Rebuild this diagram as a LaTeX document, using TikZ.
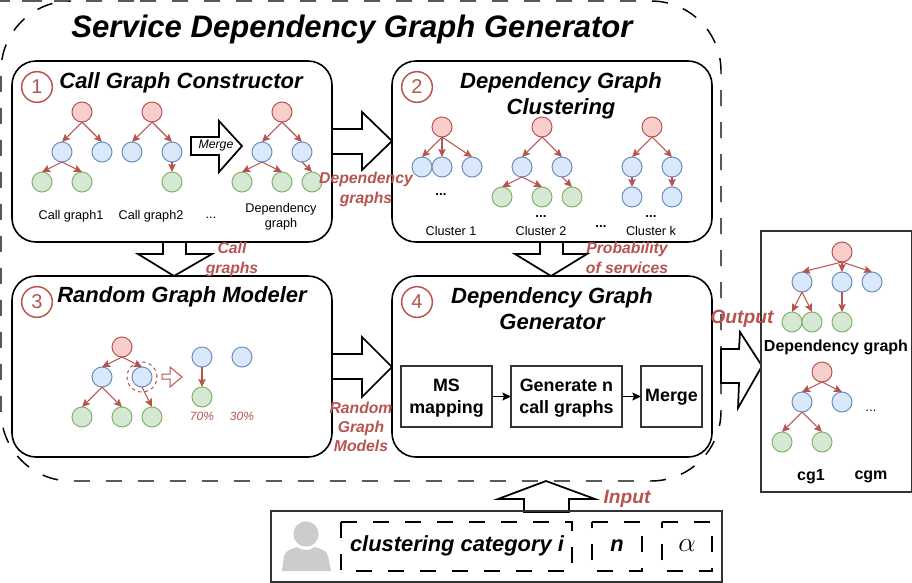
\documentclass[tikz,border=0pt]{standalone}
\usepackage{fontspec}
\setmainfont{Liberation Sans}
\usetikzlibrary{arrows.meta}
\definecolor{redS}{HTML}{B85450}
\definecolor{redF}{HTML}{F8CECC}
\definecolor{bluS}{HTML}{6C8EBF}
\definecolor{bluF}{HTML}{DAE8FC}
\definecolor{grnS}{HTML}{82B366}
\definecolor{grnF}{HTML}{D5E8D4}
\tikzset{
  x=0.75pt,y=-0.75pt,
  tn/.style={circle,draw,line width=0.75pt,minimum size=15pt,inner sep=0pt,outer sep=0pt},
  rn/.style={tn,draw=redS,fill=redF},
  bn/.style={tn,draw=bluS,fill=bluF},
  gn/.style={tn,draw=grnS,fill=grnF},
  edge/.style={draw=redS,line width=0.8pt,-{Stealth[length=6pt,width=5.5pt,inset=1pt]}},
  bigbox/.style={draw=black,line width=1.2pt,fill=white,rounded corners=18pt,inner sep=0pt,outer sep=0pt},
  sqbox/.style={draw=black!80,line width=1.2pt,fill=white,inner sep=0pt,outer sep=0pt},
  bigarrow/.style={draw=black,line width=1.3pt,fill=white,line join=miter},
  dashbox/.style={draw=black,line width=1.1pt,dash pattern=on 12pt off 12pt},
  numc/.style={circle,draw=redS,line width=1.1pt,minimum size=23pt,inner sep=0pt,text=redS,fill=white,font=\fontsize{15}{18}\selectfont},
  txt/.style={inner sep=0pt,outer sep=0pt,align=center},
  title/.style={txt,font=\fontsize{16.5}{19.5}\selectfont\bfseries\itshape},
  red lab/.style={txt,text=redS,font=\fontsize{11.8}{15}\selectfont\bfseries\itshape},
  small/.style={txt,font=\fontsize{9.5}{11.25}\selectfont},
  dotsb/.style={txt,font=\fontsize{10}{11}\selectfont\bfseries},
  innerlab/.style={txt,font=\fontsize{13.4}{16.5}\selectfont\bfseries},
  outlab/.style={txt,font=\fontsize{12}{14}\selectfont\bfseries},
  inlab/.style={txt,font=\fontsize{16.4}{19}\selectfont\bfseries\itshape},
}
\begin{document}
\begin{tikzpicture}
\useasboundingbox (0,0) rectangle (912,582);
% outer dashed region
\draw[dashbox,rounded corners=52.5pt] (70,1) -- (721,1) -- (721,481) -- (1,481) -- (1,1) -- cycle;
\node[txt,font=\fontsize{23.3}{27}\selectfont\bfseries\itshape] (maint) at (352,29) {Service Dependency Graph Generator};

% boxes
\node[bigbox,minimum width=240pt,minimum height=135.75pt] (b1) at (172,151.5) {};
\node[bigbox,minimum width=240pt,minimum height=135.75pt] (b2) at (552,151.5) {};
\node[bigbox,minimum width=240pt,minimum height=135.75pt] (b3) at (172,366.5) {};
\node[bigbox,minimum width=240pt,minimum height=135.75pt] (b4) at (552,366.5) {};
% big arrows
\draw[bigarrow] (332,129) -- (362,129) -- (362,112) -- (392,141) -- (362,170) -- (362,154) -- (332,154) -- cycle;
\draw[bigarrow] (332,354) -- (362,354) -- (362,337) -- (392,367) -- (362,397) -- (362,379) -- (332,379) -- cycle;
\draw[bigarrow] (163,242) -- (163,254) -- (138,254) -- (174,276) -- (212,254) -- (186,254) -- (186,242) -- cycle;
\draw[bigarrow] (540,242) -- (540,254) -- (515,254) -- (551,276) -- (587,254) -- (563,254) -- (563,242) -- cycle;
\draw[bigarrow] (721,349) -- (739,349) -- (740,332) -- (762,366) -- (738,408) -- (739,383) -- (721,383) -- cycle;
\draw[bigarrow] (524,512) -- (524,499) -- (498,499) -- (546,481) -- (595,499) -- (569,499) -- (569,512) -- cycle;

% numbers
\node[numc] (n1) at (37,87) {1};
\node[numc] (n2) at (417,87) {2};
\node[numc] (n3) at (37,302) {3};
\node[numc] (n4) at (417,302) {4};

% titles
\node[title] (t1) at (181,83) {Call Graph Constructor};
\node[title] (t2) at (561,96) {Dependency Graph\\Clustering};
\node[title] (t3) at (182,297) {Random Graph Modeler};
\node[title] (t4) at (552,309) {Dependency Graph\\Generator};

% box 1 graphs
\node[rn] (a) at (82,112) {}; \node[bn] (a1) at (62,152) {}; \node[bn] (a2) at (102,152) {};
\node[gn] (a3) at (42,182) {}; \node[gn] (a4) at (82,182) {};
\draw[edge] (a.south) -- (a1.north); \draw[edge] (a.south) -- (a2.north);
\draw[edge] (a1.south) -- (a3.north); \draw[edge] (a1.south) -- (a4.north);
\node[rn] (c) at (152,112) {}; \node[bn] (c1) at (132,152) {}; \node[bn] (c2) at (172,152) {};
\node[gn] (c3) at (172,182) {};
\draw[edge] (c.south) -- (c1.north); \draw[edge] (c.south) -- (c2.north); \draw[edge] (c2.south) -- (c3.north);
\node[rn] (d) at (282,112) {}; \node[bn] (d1) at (262,152) {}; \node[bn] (d2) at (302,152) {};
\node[gn] (d3) at (242,182) {}; \node[gn] (d4) at (282,182) {}; \node[gn] (d5) at (312,182) {};
\draw[edge] (d.south) -- (d1.north); \draw[edge] (d.south) -- (d2.north);
\draw[edge] (d1.south) -- (d3.north); \draw[edge] (d1.south) -- (d4.north); \draw[edge] (d2.south) -- (d5.north);
\draw[draw=black,line width=1.3pt,fill=white] (191,137) -- (219,137) -- (219,121) -- (242,146) -- (219,172) -- (219,155) -- (191,155) -- cycle;
\node[txt,font=\fontsize{9.2}{11}\selectfont\itshape] (mg) at (216,146) {Merge};
\node[small] (l1) at (71,216) {Call graph1};
\node[small] (l2) at (151,216) {Call graph2};
\node[small] (l3) at (211,218) {...};
\node[small] (l4) at (281,216.5) {Dependency\\graph};

% box 2 graphs
\node[rn] (e) at (442,127) {}; \node[bn] (e1) at (422,167) {}; \node[bn] (e2) at (442,167) {}; \node[bn] (e3) at (472,167) {};
\draw[edge] (e.south) -- (e1.north); \draw[edge] (e.south) -- (e2.north); \draw[edge] (e.south) -- (e3.north);
\node[rn] (f) at (542,127) {}; \node[bn] (f1) at (522,167) {}; \node[bn] (f2) at (562,167) {};
\node[gn] (f3) at (502,197) {}; \node[gn] (f4) at (542,197) {}; \node[gn] (f5) at (572,197) {};
\draw[edge] (f.south) -- (f1.north); \draw[edge] (f.south) -- (f2.north);
\draw[edge] (f1.south) -- (f3.north); \draw[edge] (f1.south) -- (f4.north); \draw[edge] (f2.south) -- (f5.north);
\node[rn] (g) at (652,127) {}; \node[bn] (g1) at (632,167) {}; \node[bn] (g2) at (672,167) {};
\node[bn] (g3) at (632,197) {}; \node[bn] (g4) at (672,197) {};
\draw[edge] (g.south) -- (g1.north); \draw[edge] (g.south) -- (g2.north);
\draw[edge] (g1.south) -- (g3.north); \draw[edge] (g2.south) -- (g4.north);
\node[dotsb] (p1) at (441,195) {...};
\node[dotsb] (p2) at (541,217) {...};
\node[dotsb] (p3) at (601,227) {...};
\node[dotsb] (p4) at (651,217) {...};
\node[small] (k1) at (451,231) {Cluster 1};
\node[small] (k2) at (541,231) {Cluster 2};
\node[small] (k3) at (651,231) {Cluster k};

% box 3 graphs
\node[rn] (h) at (122,347) {}; \node[bn] (h1) at (102,377) {}; \node[bn] (h2) at (142,377) {};
\node[gn] (h3) at (82,417) {}; \node[gn] (h4) at (122,417) {}; \node[gn] (h5) at (152,417) {};
\draw[edge] (h.south) -- (h1.north); \draw[edge] (h.south) -- (h2.north);
\draw[edge] (h1.south) -- (h3.north); \draw[edge] (h1.south) -- (h4.north); \draw[edge] (h2.south) -- (h5.north);
\node[circle,draw=redS,line width=0.75pt,dash pattern=on 2.5pt off 2.5pt,minimum size=22.5pt,inner sep=0pt] (hc) at (142,377) {};
\draw[draw=redS,line width=0.75pt,fill=white] (162,374) -- (170,374) -- (170,367) -- (182,377) -- (170,387) -- (170,379) -- (162,379) -- cycle;
\node[bn] (i1) at (202,357) {}; \node[bn] (i2) at (242,357) {}; \node[gn] (i3) at (202,397) {};
\draw[edge] (i1.south) -- (i3.north);
\node[txt,text=redS,font=\fontsize{9}{11}\selectfont\itshape] (pc1) at (202,416) {70\%};
\node[txt,text=redS,font=\fontsize{9}{11}\selectfont\itshape] (pc2) at (242,416) {30\%};

% box 4 inner
\node[sqbox,minimum width=68.25pt,minimum height=45.75pt] (m1) at (446.5,396.5) {};
\node[sqbox,minimum width=83.25pt,minimum height=45.75pt] (m2) at (566.5,396.5) {};
\node[sqbox,minimum width=45.75pt,minimum height=45.75pt] (m3) at (671.5,396.5) {};
\node[innerlab] (m1t) at (446.5,398) {MS\\mapping};
\node[innerlab] (m2t) at (566.5,398) {Generate n\\call graphs};
\node[innerlab] (m3t) at (671.5,397) {Merge};
\draw[line width=0.8pt,-{Stealth[length=6.5pt,width=6pt,inset=1.2pt]}] (m1) -- (m2);
\draw[line width=0.8pt,-{Stealth[length=6.5pt,width=6pt,inset=1.2pt]}] (m2) -- (m3);

% output box
\node[sqbox,minimum width=113.25pt,minimum height=195.75pt] (out) at (836.5,361.5) {};
\node[rn] (o) at (842,252) {}; \node[bn] (o1) at (802,282) {}; \node[bn] (o2) at (842,282) {}; \node[bn] (o3) at (872,282) {};
\node[gn] (o4) at (792,322) {}; \node[gn] (o5) at (812,322) {}; \node[gn] (o6) at (842,322) {};
\draw[edge] (o.south) -- (o1.north); \draw[edge] (o.south) -- (o2.north); \draw[edge] (o.south) -- (o3.north);
\draw[edge] (o1.south) -- (o4.north); \draw[edge] (o1.south) -- (o5.north); \draw[edge] (o2.south) -- (o6.north);
\node[outlab] (odg) at (836,347) {Dependency graph};
\node[rn] (q) at (822,372) {}; \node[bn] (q1) at (802,402) {}; \node[bn] (q2) at (842,402) {};
\node[gn] (q3) at (782,442) {}; \node[gn] (q4) at (822,442) {};
\draw[edge] (q.south) -- (q1.north); \draw[edge] (q.south) -- (q2.north);
\draw[edge] (q1.south) -- (q3.north); \draw[edge] (q1.south) -- (q4.north);
\node[small] (qd) at (871,411) {...};
\node[outlab] (cg1) at (811,477) {cg1};
\node[outlab] (cgm) at (871,477) {cgm};

% input box
\node[sqbox,minimum width=338.25pt,minimum height=53.25pt,fill=none] (in) at (496.5,546.5) {};
\fill[black!20] (306,534) circle[radius=9.5pt];
\fill[black!20] (282,571) -- (284,556) .. controls (285,550) and (292,549) .. (297,547) .. controls (302,551) and (310,551) .. (315,547) .. controls (320,549) and (327,550) .. (328,556) -- (331,571) -- cycle;
\draw[dashbox] (341,522) -- (572,522) -- (572,571) -- (341,571) -- cycle;
\draw[dashbox] (592,522) -- (642,522) -- (642,571) -- (592,571) -- cycle;
\draw[dashbox] (662,522) -- (712,522) -- (712,571) -- (662,571) -- cycle;
\node[inlab] (ci) at (457,546) {clustering category i};
\node[inlab] (nn) at (617,546) {n};
\node[txt,font=\fontsize{20}{22}\selectfont] (aa) at (687,546) {$\alpha$};

% red labels
\node[red lab] (r1) at (366,189) {Dependency\\graphs};
\node[red lab] (r2) at (232,259) {Call\\graphs};
\node[red lab] (r3) at (627,258) {Probability\\of services};
\node[red lab,font=\fontsize{11.8}{14}\selectfont\bfseries\itshape] (r4) at (361,427) {Random\\Graph\\Models};
\node[red lab,font=\fontsize{14.4}{16}\selectfont\bfseries\itshape] (r5) at (742,318.5) {Output};
\node[red lab,font=\fontsize{14.4}{16}\selectfont\bfseries\itshape] (r6) at (627,498.5) {Input};
\end{tikzpicture}
\end{document}
